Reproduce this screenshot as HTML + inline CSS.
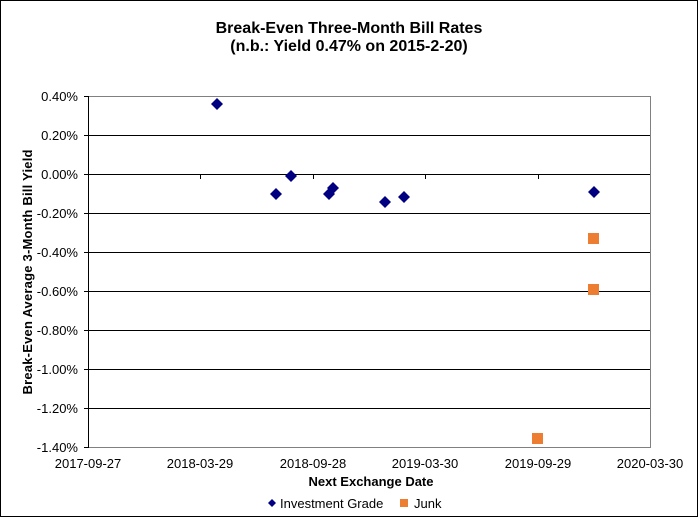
<!DOCTYPE html>
<html><head><style>body{margin:0;background:#fff}</style></head><body>
<svg width="698" height="517" xmlns="http://www.w3.org/2000/svg" font-family="Liberation Sans, Arial, sans-serif">
<rect x="0.5" y="0.5" width="697" height="516" fill="#fff" stroke="#000"/>
<text x="349" y="33" text-anchor="middle" font-size="16" font-weight="bold">Break-Even Three-Month Bill Rates</text>
<text x="349" y="51" text-anchor="middle" font-size="16" font-weight="bold">(n.b.: Yield  0.47% on 2015-2-20)</text>
<g stroke="#000" stroke-width="1">
<line x1="88" y1="96.5" x2="650" y2="96.5" stroke="#808080"/>
<line x1="88" y1="135.5" x2="650" y2="135.5"/>
<line x1="88" y1="174.5" x2="650" y2="174.5"/>
<line x1="88" y1="213.5" x2="650" y2="213.5"/>
<line x1="88" y1="252.5" x2="650" y2="252.5"/>
<line x1="88" y1="291.5" x2="650" y2="291.5"/>
<line x1="88" y1="330.5" x2="650" y2="330.5"/>
<line x1="88" y1="369.5" x2="650" y2="369.5"/>
<line x1="88" y1="408.5" x2="650" y2="408.5"/>
</g>
<rect x="88.5" y="96.5" width="562" height="351" fill="none" stroke="#808080"/>
<line x1="88.5" y1="96" x2="88.5" y2="448" stroke="#000"/>
<g stroke="#000">
<line x1="84" y1="96.5" x2="88" y2="96.5"/><line x1="84" y1="135.5" x2="88" y2="135.5"/><line x1="84" y1="174.5" x2="88" y2="174.5"/><line x1="84" y1="213.5" x2="88" y2="213.5"/><line x1="84" y1="252.5" x2="88" y2="252.5"/><line x1="84" y1="291.5" x2="88" y2="291.5"/><line x1="84" y1="330.5" x2="88" y2="330.5"/><line x1="84" y1="369.5" x2="88" y2="369.5"/><line x1="84" y1="408.5" x2="88" y2="408.5"/><line x1="84" y1="447.5" x2="88" y2="447.5"/>
<line x1="200.5" y1="174" x2="200.5" y2="179"/><line x1="313.5" y1="174" x2="313.5" y2="179"/><line x1="425.5" y1="174" x2="425.5" y2="179"/><line x1="538.5" y1="174" x2="538.5" y2="179"/>
</g>
<g font-size="13" text-anchor="end">
<text x="78" y="101">0.40%</text><text x="78" y="140">0.20%</text><text x="78" y="179">0.00%</text><text x="78" y="218">-0.20%</text><text x="78" y="257">-0.40%</text><text x="78" y="296">-0.60%</text><text x="78" y="335">-0.80%</text><text x="78" y="374">-1.00%</text><text x="78" y="413">-1.20%</text><text x="78" y="452">-1.40%</text>
</g>
<g font-size="13" text-anchor="middle">
<text x="88" y="468">2017-09-27</text><text x="200" y="468">2018-03-29</text><text x="313" y="468">2018-09-28</text><text x="425" y="468">2019-03-30</text><text x="538" y="468">2019-09-29</text><text x="650" y="468">2020-03-30</text>
</g>
<text x="371" y="486" text-anchor="middle" font-size="13" font-weight="bold">Next Exchange Date</text>
<text transform="translate(32,272) rotate(-90)" text-anchor="middle" font-size="13" font-weight="bold" textLength="245" lengthAdjust="spacing">Break-Even Average 3-Month Bill Yield</text>
<g fill="#000080">
<path d="M217 98l6 6-6 6-6-6z"/><path d="M276 188l6 6-6 6-6-6z"/><path d="M291 170l6 6-6 6-6-6z"/><path d="M329 188l6 6-6 6-6-6z"/><path d="M333 182l6 6-6 6-6-6z"/><path d="M385 196l6 6-6 6-6-6z"/><path d="M404 191l6 6-6 6-6-6z"/><path d="M594 186l6 6-6 6-6-6z"/>
</g>
<g fill="#ED7D31">
<rect x="588" y="233" width="11" height="11"/><rect x="588" y="284" width="11" height="11"/><rect x="532" y="433" width="11" height="11"/>
</g>
<path d="M272 499l4 4-4 4-4-4z" fill="#000080"/>
<text x="280" y="508" font-size="13">Investment Grade</text>
<rect x="400" y="499" width="8" height="8" fill="#ED7D31"/>
<text x="414" y="508" font-size="13">Junk</text>
</svg>
</body></html>
